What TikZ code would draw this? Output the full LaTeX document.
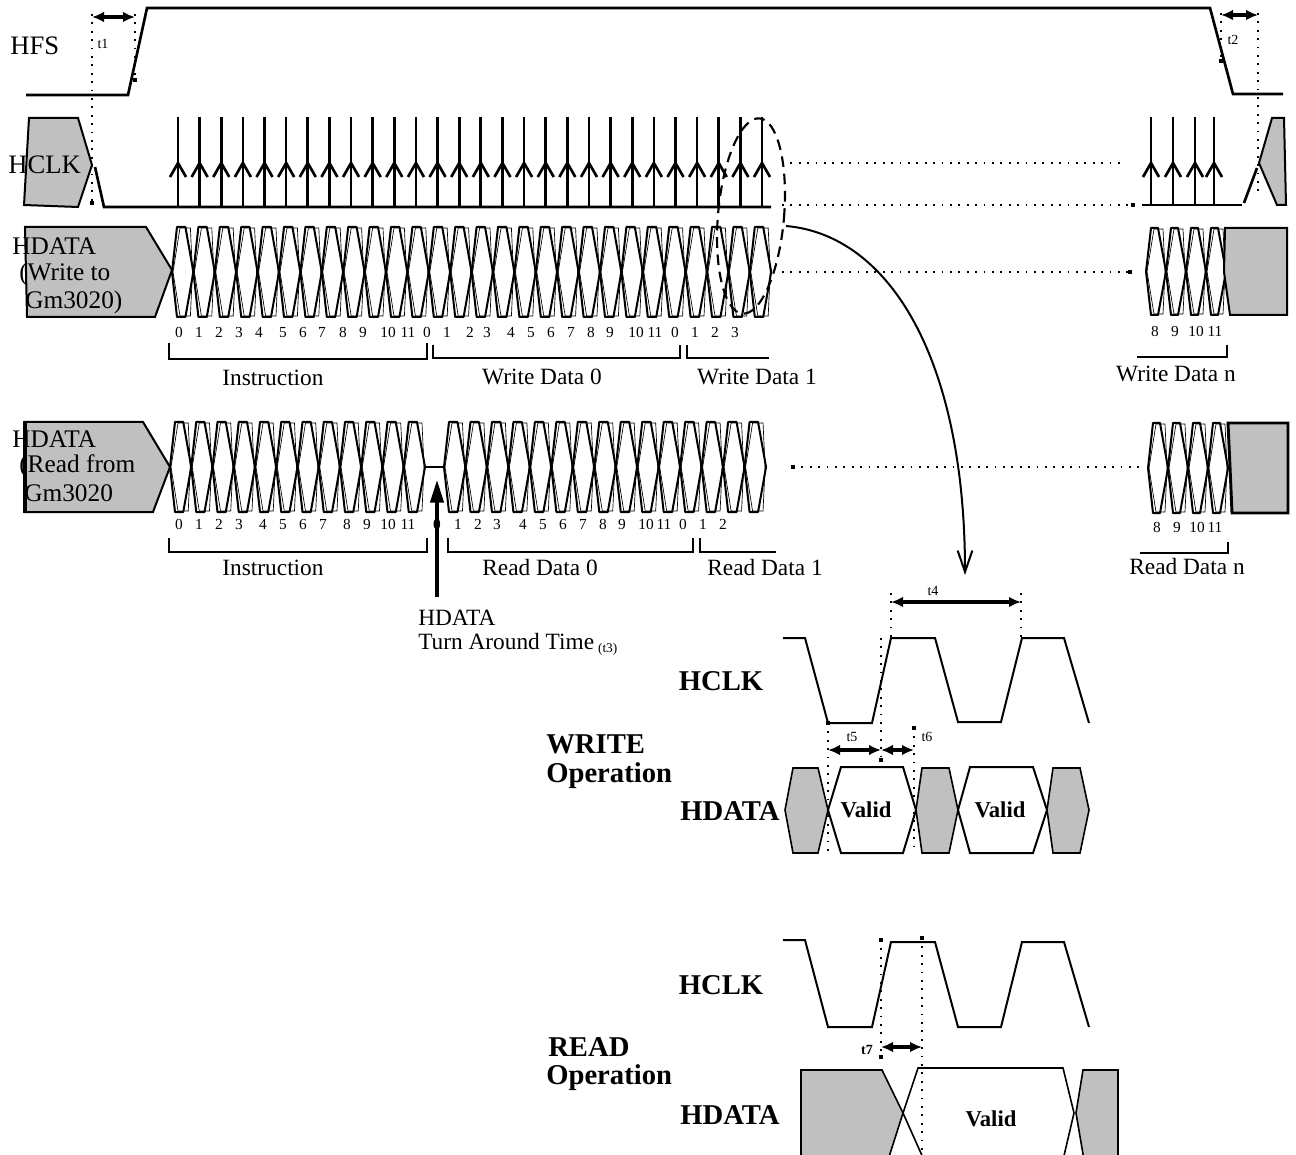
\documentclass[tikz,border=0pt]{standalone}
\usepackage{fontspec}
\setmainfont{Liberation Serif}
\usetikzlibrary{arrows.meta,shapes.geometric}
\definecolor{boxgray}{HTML}{C0C0C0}

% bus cells: x0, width, count, top, bottom
\newcommand{\buscells}[5]{%
  \foreach \k in {1,...,#3}{%
    \pgfmathsetmacro{\xa}{#1+(\k-1)*#2}%
    \pgfmathsetmacro{\xb}{\xa+#2}%
    \pgfmathsetmacro{\ym}{(#4+#5)/2}%
    \draw[bus] (\xa,\ym) -- (\xa+5,#4) -- (\xb-8,#4) -- (\xb,\ym) -- (\xb-8,#5) -- (\xa+5,#5) -- cycle;
    \draw[busthin] (\xa+1,\ym) -- (\xa+8,#4+1) -- (\xb-3,#4+1) -- (\xb-1,\ym) -- (\xb-3,#5-1) -- (\xa+8,#5-1) -- cycle;
  }}
% small square at the end of a guide
\newcommand{\sqdot}[1]{\fill #1 ++(-1.6,-1.6) rectangle ++(3.2,3.2);}

\begin{document}
\begin{tikzpicture}[x=0.75pt,y=-0.75pt,
  sig/.style={font=\fontsize{20}{20.6}\selectfont, anchor=west, inner sep=0pt},
  sigs/.style={font=\fontsize{19}{19.5}\selectfont, anchor=west, inner sep=0pt},
  lbl/.style={font=\fontsize{17.5}{18}\selectfont, inner sep=0pt},
  num/.style={font=\fontsize{11.5}{12}\selectfont, inner sep=0pt, anchor=base},
  tim/.style={font=\fontsize{10.5}{11}\selectfont, inner sep=0pt},
  big/.style={font=\bfseries\fontsize{21.5}{24}\selectfont, inner sep=0pt},
  valid/.style={font=\bfseries\fontsize{17}{18}\selectfont, inner sep=0pt},
  wave/.style={line width=2pt},
  clk/.style={line width=1.5pt},
  bus/.style={line width=1.5pt, line join=round},
  busthin/.style={line width=0.5pt},
  brk/.style={line width=2pt},
  graybox/.style={fill=boxgray, draw, line width=1.5pt},
  guide/.style={dash pattern=on 1.3pt off 5pt, line width=0.9pt},
  dim/.style={<->, >={Latex[length=9pt,width=8pt]}, line width=2.4pt}]
  \useasboundingbox (0,0) rectangle (1296,1155);

  % ---------- HFS ----------
  \draw[wave] (26,95) -- (128,95) -- (147,8) -- (1210,8) -- (1233,94) -- (1283,94);
  \node[sig] (hfs) at (10,46) {HFS};
  \draw[guide] (92,14) -- (92,203);
  \draw[guide] (135,14) -- (135,80);
  \sqdot{(92,203)} \sqdot{(135,80)}
  \coordinate (t1a) at (92,17);
  \coordinate (t1b) at (135,17);
  \draw[dim] (t1a) -- (t1b);
  \node[tim] (t1) at (103,44) {t1};
  \draw[guide] (1221,13) -- (1221,61);
  \draw[guide] (1258,13) -- (1258,195);
  \sqdot{(1221,61)}
  \coordinate (t2a) at (1221,15);
  \coordinate (t2b) at (1258,15);
  \draw[dim] (t2a) -- (t2b);
  \node[tim] (t2) at (1233,40) {t2};

  % ---------- HCLK ----------
  \draw[graybox] (29,118) -- (78,118) -- (92,165) -- (78,207) -- (24,205) -- cycle;
  \draw[wave] (95,167) -- (104,207) -- (771,207);
  \foreach \i in {0,...,27}{
    \pgfmathsetmacro{\xc}{178+21.63*\i}
    \draw[wave] (\xc,117) -- (\xc,207);
    \draw[wave] (\xc-8,177) -- (\xc,163) -- (\xc+8,177);
  }
  \draw[wave] (1142,205) -- (1242,205);
  \foreach \xc in {1151,1173,1195,1214}{
    \draw[wave] (\xc,117) -- (\xc,205);
    \draw[wave] (\xc-8,177) -- (\xc,163) -- (\xc+8,177);
  }
  \draw[wave] (1244,203) -- (1257,168);
  \draw[graybox] (1259,163) -- (1272,118) -- (1284,118) -- (1286,205) -- (1277,205) -- cycle;
  \node[sig] (hclk) at (8,165) {HCLK};

  % ---------- HDATA write ----------
  \draw[graybox] (25,227) -- (146,227) -- (172,270) -- (155,317) -- (27,317) -- cycle;
  \node[sigs] (hdw1) at (12,246) {HDATA};
  \node[sigs] (hdw2) at (19,274) {(Write to};
  \node[sigs] (hdw3) at (25,302) {Gm3020)};
  \buscells{172}{21.4}{28}{227}{317}
  \buscells{1146}{20}{4}{228}{315}
  \draw[graybox] (1225,228) -- (1287,228) -- (1287,315) -- (1230,315) -- (1224,272) -- cycle;

  \foreach \x/\n [count=\c] in {179/0,199/1,219/2,239/3,259/4,283/5,303/6,322/7,343/8,363/9,388/10,408/11,
      427/0,447/1,470/2,487/3,511/4,531/5,551/6,571/7,591/8,610/9,636/10,655/11,675/0,695/1,715/2,735/3}
    \node[num] (wn\c) at (\x,338) {\n};
  \foreach \x/\n [count=\c] in {1155/8,1175/9,1196/10,1215/11}
    \node[num] (wr\c) at (\x,337) {\n};

  \draw[brk] (169,343) -- (169,359) -- (427,359) -- (427,343);
  \draw[brk] (433,345) -- (433,358) -- (680,358) -- (680,345);
  \draw[brk] (687,345) -- (687,358) -- (769,358);
  \draw[brk] (1137,357) -- (1227,357) -- (1227,345);
  \node[lbl] (instw) at (273,378) {Instruction};
  \node[lbl] (wd0) at (542,377) {Write Data 0};
  \node[lbl] (wd1) at (757,377) {Write Data 1};
  \node[lbl] (wdn) at (1176,374) {Write Data n};

  % ---------- HDATA read ----------
  \draw[graybox] (25,422) -- (143,422) -- (170,467) -- (153,512) -- (25,512) -- cycle;
  \draw[line width=2.5pt] (25,421) -- (25,513);
  \node[sigs] (hdr1) at (12,439) {HDATA};
  \node[sigs] (hdr2) at (19,466) {(Read from};
  \node[sigs] (hdr3) at (24,493) {Gm3020};
  \buscells{170}{21.25}{12}{422}{512}
  \draw[bus] (425,467) -- (444,467);
  \buscells{444}{21.47}{15}{422}{512}
  \buscells{1148}{20}{4}{423}{513}
  \draw[graybox, line width=2.2pt] (1228,423) -- (1288,423) -- (1288,513) -- (1232,513) -- (1230,467) -- cycle;

  \foreach \x/\n [count=\c] in {179/0,199/1,219/2,239/3,263/4,283/5,303/6,323/7,347/8,367/9,388/10,408/11,
      437/0,458/1,478/2,497/3,523/4,543/5,563/6,583/7,603/8,622/9,646/10,664/11,683/0,703/1,723/2}
    \node[num] (rn\c) at (\x,529) {\n};
  \foreach \x/\n [count=\c] in {1157/8,1177/9,1197/10,1215/11}
    \node[num] (rr\c) at (\x,532) {\n};

  \draw[brk] (169,538) -- (169,552) -- (427,552) -- (427,538);
  \draw[brk] (448,538) -- (448,552) -- (693,552) -- (693,538);
  \draw[brk] (700,538) -- (700,552) -- (776,552);
  \draw[brk] (1140,553) -- (1228,553) -- (1228,542);
  \node[lbl] (instr) at (273,568) {Instruction};
  \node[lbl] (rd0) at (540,568) {Read Data 0};
  \node[lbl] (rd1) at (765,568) {Read Data 1};
  \node[lbl] (rdn) at (1187,567) {Read Data n};

  % turn around
  \node[lbl, anchor=north west, align=left] (tat) at (418,610)
    {HDATA\\Turn Around Time\,\raisebox{-2pt}{\fontsize{10}{10}\selectfont(t3)}};
  \coordinate (tatfoot) at (437,597);
  \coordinate (tattip) at (437,480);
  \draw[line width=2.5pt, -{Triangle[length=17pt,width=10pt]}] (tatfoot) -- (tattip);

  % guides to the right block
  \draw[guide] (782,163) -- (1125,163);
  \draw[guide] (782,205) -- (1133,205);
  \draw[guide] (782,272) -- (1130,272);
  \draw[guide] (793,467) -- (1145,467);
  \sqdot{(1133,205)} \sqdot{(1130,272)} \sqdot{(793,467)}

  % zoom ellipse and arrow
  \node[draw, ellipse, dashed, dash pattern=on 8pt off 5pt, line width=1.6pt, inner sep=0pt,
        minimum width=49.5pt, minimum height=147pt, rotate=-5] (zoom) at (751,216) {};
  \coordinate (zoomout) at (786,226);
  \coordinate (zoomin) at (965,575);
  \draw[line width=1.5pt, -{Straight Barb[length=16pt,width=11pt]}]
    (zoomout) .. controls (890,235) and (965,360) .. (zoomin);

  % ---------- WRITE operation ----------
  \draw[clk] (783,638) -- (805,638) -- (828,723) -- (872,723) -- (891,638) -- (935,638) -- (958,722)
     -- (1001,722) -- (1022,638) -- (1064,638) -- (1089,723);
  \draw[guide] (891,593) -- (891,638);
  \draw[guide] (1021,593) -- (1021,638);
  \coordinate (t4a) at (891,602);
  \coordinate (t4b) at (1021,602);
  \draw[dim] (t4a) -- (t4b);
  \node[tim] (t4) at (933,591) {t4};

  \draw[guide] (828,723) -- (828,853);
  \draw[guide] (881,638) -- (881,760);
  \draw[guide] (914,728) -- (914,853);
  \sqdot{(828,723)} \sqdot{(881,760)} \sqdot{(914,728)}
  \coordinate (t5a) at (828,750);
  \coordinate (t5b) at (881,750);
  \coordinate (t6b) at (914,750);
  \draw[dim] (t5a) -- (t5b);
  \draw[dim] (t5b) -- (t6b);
  \node[tim] (t5) at (852,737) {t5};
  \node[tim] (t6) at (927,737) {t6};

  \draw[graybox, line width=1.2pt] (785,810) -- (793,768) -- (818,768) -- (828,810) -- (818,853) -- (793,853) -- cycle;
  \draw[line width=1.5pt] (828,810) -- (841,767) -- (903,767) -- (916,810) -- (903,853) -- (841,853) -- cycle;
  \draw[graybox, line width=1.2pt] (916,810) -- (922,768) -- (949,768) -- (958,810) -- (949,853) -- (922,853) -- cycle;
  \draw[line width=1.5pt] (958,810) -- (970,767) -- (1033,767) -- (1047,810) -- (1033,853) -- (970,853) -- cycle;
  \draw[graybox, line width=1.2pt] (1047,810) -- (1053,768) -- (1080,768) -- (1089,810) -- (1080,853) -- (1053,853) -- cycle;
  \node[valid] (v1) at (866,810) {Valid};
  \node[valid] (v2) at (1000,810) {Valid};

  \node[big] (wclk) at (721,681) {HCLK};
  \node[big, anchor=west] (wr) at (546,744) {WRITE};
  \node[big, anchor=west] (wop) at (546,776) {Operation};
  \node[big] (wdat) at (730,811) {HDATA};

  % ---------- READ operation ----------
  \draw[clk] (783,940) -- (805,940) -- (828,1027) -- (872,1027) -- (891,942) -- (935,942) -- (958,1027)
     -- (1001,1027) -- (1022,942) -- (1064,942) -- (1089,1027);
  \draw[guide] (881,940) -- (881,1057);
  \draw[guide] (922,938) -- (922,1158);
  \sqdot{(881,940)} \sqdot{(881,1057)} \sqdot{(922,938)}
  \coordinate (t7a) at (881,1047);
  \coordinate (t7b) at (922,1047);
  \draw[dim] (t7a) -- (t7b);
  \node[tim, font=\bfseries\fontsize{10.5}{11}\selectfont] (t7) at (867,1050) {t7};

  \draw[graybox, line width=1.2pt] (801,1160) -- (801,1070) -- (882,1070) -- (903,1113) -- (888,1160);
  \draw[line width=1.2pt] (903,1113) -- (924,1160);
  \draw[line width=1.2pt] (903,1113) -- (918,1068) -- (1063,1068) -- (1074,1113) -- (1063,1160);
  \draw[graybox, line width=1.2pt] (1084,1160) -- (1076,1113) -- (1083,1070) -- (1118,1070) -- (1118,1160);
  \node[valid] (v3) at (991,1119) {Valid};

  \node[big] (rclk) at (721,985) {HCLK};
  \node[big, anchor=west] (rd) at (548,1047) {READ};
  \node[big, anchor=west] (rop) at (546,1078) {Operation};
  \node[big] (rdat) at (730,1115) {HDATA};
\end{tikzpicture}
\end{document}
